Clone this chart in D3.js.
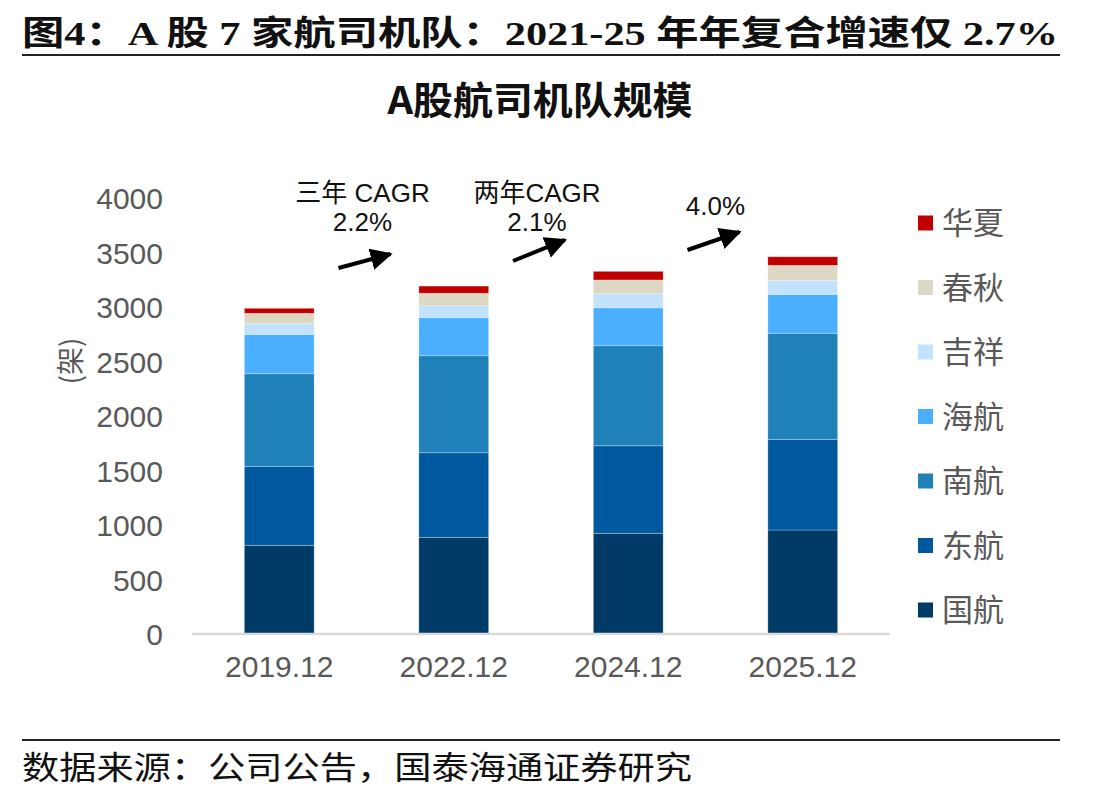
<!DOCTYPE html>
<html><head><meta charset="utf-8">
<script src="https://cdn.jsdelivr.net/npm/d3@7"></script>
<style>
html,body{margin:0;padding:0;background:#fff;}
svg{display:block;}
</style></head>
<body>
<svg id="chart" width="1108" height="798"></svg>
<script>
const categories = ["2019.12", "2022.12", "2024.12", "2025.12"];
const seriesNames = ["国航", "东航", "南航", "海航", "吉祥", "春秋", "华夏"];
const guohang   = [814, 887, 924, 954];
const donghang  = [724, 776, 803, 832];
const nanhang   = [850, 890, 918, 973];
const haihang   = [361, 349, 348, 357];
const jixiang   = [98, 110, 129, 129];
const chunqiu   = [95, 114, 126, 137];
const huaxia    = [46, 66, 79, 79];
const yTicks = [0, 500, 1000, 1500, 2000, 2500, 3000, 3500, 4000];
const annotations = [
  {from: 0, to: 1, lines: ["三年 CAGR", "2.2%"]},
  {from: 1, to: 2, lines: ["两年CAGR", "2.1%"]},
  {from: 2, to: 3, lines: ["4.0%"]}
];
const colors = ["#003a66", "#00589f", "#1f81b8", "#4aafff", "#c2e2fd", "#ddd8c4", "#c00000"];

const seriesValues = [guohang, donghang, nanhang, haihang, jixiang, chunqiu, huaxia];
const table = categories.map((c, i) => {
  const row = {cat: c};
  seriesNames.forEach((s, j) => row[s] = seriesValues[j][i]);
  return row;
});

const svg = d3.select("#chart");
const sans = "'Liberation Sans', Arial, 'Noto Sans CJK SC', sans-serif";
const cjk = "'Noto Sans CJK SC', sans-serif";
const textGray = "#595959";

// Header
svg.append("text").attr("x", 22).attr("y", 45)
  .attr("font-family", "'Liberation Serif', 'Noto Sans CJK SC', serif")
  .attr("font-weight", "bold").attr("font-size", 34).attr("fill", "#111")
  .attr("textLength", 1036).attr("lengthAdjust", "spacingAndGlyphs")
  .text("图4：A 股 7 家航司机队：2021-25 年年复合增速仅 2.7%");
svg.append("line").attr("x1", 22).attr("x2", 1060).attr("y1", 55).attr("y2", 55)
  .attr("stroke", "#222").attr("stroke-width", 2);

svg.append("text").attr("x", 540).attr("y", 114).attr("text-anchor", "middle")
  .attr("font-family", cjk).attr("font-weight", "bold").attr("font-size", 38).attr("fill", "#111")
  .attr("textLength", 305).attr("lengthAdjust", "spacingAndGlyphs")
  .text("A股航司机队规模");

// Footer
svg.append("line").attr("x1", 22).attr("x2", 1060).attr("y1", 740).attr("y2", 740)
  .attr("stroke", "#222").attr("stroke-width", 2);
svg.append("text").attr("x", 22).attr("y", 779)
  .attr("font-family", cjk).attr("font-size", 32).attr("fill", "#111")
  .attr("textLength", 670).attr("lengthAdjust", "spacingAndGlyphs")
  .text("数据来源：公司公告，国泰海通证券研究");

// Scales
const x = d3.scaleBand().domain(categories).range([192, 890]).paddingInner(0.6).paddingOuter(0.3);
const y = d3.scaleLinear().domain([0, 4000]).range([634, 198]);

const stack = d3.stack().keys(seriesNames)(table);

svg.append("g").selectAll("g").data(stack).join("g")
  .attr("fill", (d, i) => colors[i])
  .selectAll("rect").data(d => d).join("rect")
  .attr("x", d => x(d.data.cat))
  .attr("width", x.bandwidth())
  .attr("y", d => y(d[1]))
  .attr("height", d => y(d[0]) - y(d[1]))
  .attr("stroke", "rgba(255,255,255,0.35)").attr("stroke-width", 0.8);

// Baseline
svg.append("line").attr("x1", x.range()[0]).attr("x2", x.range()[1])
  .attr("y1", y(0)).attr("y2", y(0)).attr("stroke", "#d9d9d9").attr("stroke-width", 2.5);

// Y axis
const yAxis = d3.axisLeft(y).tickValues(yTicks).tickFormat(d3.format("d")).tickSize(0).tickPadding(29);
const gy = svg.append("g").attr("transform", `translate(${x.range()[0]},0)`).call(yAxis);
gy.select(".domain").remove();
gy.selectAll("text").attr("font-family", sans).attr("font-size", 30).attr("fill", textGray).attr("dy", "0.35em");

// X axis
const xAxis = d3.axisBottom(x).tickSize(0).tickPadding(22);
const gx = svg.append("g").attr("transform", `translate(0,${y(0)})`).call(xAxis);
gx.select(".domain").remove();
gx.selectAll("text").attr("font-family", sans).attr("font-size", 30).attr("fill", textGray);

// Y label
svg.append("text").attr("transform", "translate(81,361) rotate(-90)").attr("text-anchor", "middle")
  .attr("font-family", cjk).attr("font-size", 28).attr("fill", textGray).text("(架)");

// Legend
const legendItems = seriesNames.map((s, i) => ({name: s, color: colors[i]})).reverse();
const lg = svg.append("g").selectAll("g").data(legendItems).join("g")
  .attr("transform", (d, i) => `translate(918,${223 + i * 64.5})`);
lg.append("rect").attr("x", 0).attr("y", -7.5).attr("width", 15).attr("height", 15).attr("fill", d => d.color);
lg.append("text").attr("x", 24).attr("y", 0).attr("dy", "0.36em")
  .attr("font-family", cjk).attr("font-size", 31).attr("fill", textGray).text(d => d.name);

// Annotations
svg.append("defs").append("marker").attr("id", "ah").attr("viewBox", "0 0 10 10")
  .attr("refX", 9).attr("refY", 5).attr("markerWidth", 5.5).attr("markerHeight", 5.5)
  .attr("orient", "auto").attr("markerUnits", "strokeWidth")
  .append("path").attr("d", "M0,0 L10,5 L0,10 z").attr("fill", "#000");

// arrow start/end and text baselines, in data units
const annY = [
  {t: 3358, h: 3486, l1: 3960, l2: 3700, dx: 0},
  {t: 3422, h: 3615, l1: 3960, l2: 3700, dx: 0},
  {t: 3523, h: 3688, l1: 3845, l2: null, dx: 4}
];
annotations.forEach((a, k) => {
  const cx = (x(categories[a.from]) + x(categories[a.to]) + x.bandwidth()) / 2;
  const ay = annY[k];
  svg.append("line").attr("x1", cx - 28).attr("x2", cx + 24)
    .attr("y1", y(ay.t)).attr("y2", y(ay.h))
    .attr("stroke", "#000").attr("stroke-width", 4).attr("marker-end", "url(#ah)");
  a.lines.forEach((ln, j) => {
    svg.append("text").attr("x", cx - 4 + ay.dx).attr("y", y(j === 0 ? ay.l1 : ay.l2)).attr("text-anchor", "middle")
      .attr("font-family", sans).attr("font-size", 26).attr("fill", "#111").text(ln);
  });
});
</script>
</body></html>
